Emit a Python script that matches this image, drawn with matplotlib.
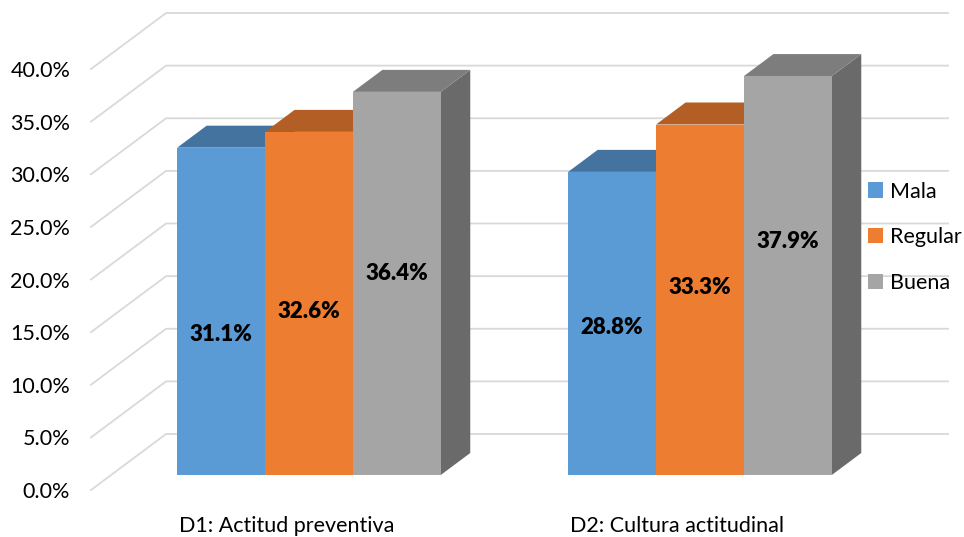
import matplotlib
matplotlib.use("Agg")
import matplotlib.pyplot as plt
from matplotlib.patches import Polygon, Patch

plt.rcParams['font.family'] = ['Lato', 'DejaVu Sans']

# data
categories = ['D1: Actitud preventiva', 'D2: Cultura actitudinal']
series = ['Mala', 'Regular', 'Buena']
mala = [31.1, 28.8]
regular = [32.6, 33.3]
buena = [36.4, 37.9]
yticks = [0, 5, 10, 15, 20, 25, 30, 35, 40]

# styling
front_colors = ['#5B9BD5', '#ED7D31', '#A5A5A5']
top_colors = ['#44739F', '#B35E24', '#7D7D7D']
side_colors = ['#3C6890', '#A45620', '#6A6A6A']
# where each value label sits, as a share of its bar height
label_frac = [[0.428, 0.476, 0.526], [0.487, 0.534, 0.585]]

# oblique 3D projection: full depth of the box in data units
DX, DY = 0.192, 5.32
f0, f1 = 0.268, 0.661      # bar depth range (fraction of box depth)
gap = 1.45                 # gap width as a multiple of bar width


def proj(x, y, f):
    return (x + f * DX, y + f * DY)


fig = plt.figure(figsize=(9.64, 5.37), dpi=100)
ax = fig.add_axes([91 / 964, 47 / 537, 782 / 964, 421 / 537])
ax.set_xlim(0, len(categories))
ax.set_ylim(0, 40)
for s in ax.spines.values():
    s.set_visible(False)

# gridlines running along the left wall and across the back wall
for v in yticks:
    pts = [proj(0, v, 0), proj(0, v, 1), proj(len(categories), v, 1)]
    ax.plot([p[0] for p in pts], [p[1] for p in pts], color='#D9D9D9',
            lw=1.3, zorder=1, clip_on=False, solid_joinstyle='miter')

values = [mala, regular, buena]
w = 1 / (len(series) + gap)
for i, cat in enumerate(categories):
    for j in range(len(series)):
        v = values[j][i]
        L = i + gap * w / 2 + j * w + 0.006
        R = L + w
        side = [proj(R, 0, f0), proj(R, v, f0), proj(R, v, f1), proj(R, 0, f1)]
        top = [proj(L, v, f0), proj(R, v, f0), proj(R, v, f1), proj(L, v, f1)]
        front = [proj(L, 0, f0), proj(R, 0, f0), proj(R, v, f0), proj(L, v, f0)]
        z = 2 + i * 3 + j
        ax.add_patch(Polygon(side, closed=True, facecolor=side_colors[j],
                             edgecolor='none', zorder=z, clip_on=False))
        ax.add_patch(Polygon(top, closed=True, facecolor=top_colors[j],
                             edgecolor='none', zorder=z, clip_on=False))
        ax.add_patch(Polygon(front, closed=True, facecolor=front_colors[j],
                             edgecolor='none', zorder=z, clip_on=False))
        lx, ly = proj((L + R) / 2, v * label_frac[i][j], f0)
        ax.text(lx, ly, f'{v:.1f}%', ha='center', va='center',
                fontsize=16, fontweight='heavy', color='black', zorder=20)

ax.set_yticks(yticks)
ax.set_yticklabels([f'{t:.1f}%' for t in yticks])
ax.set_xticks([i + 0.5 for i in range(len(categories))])
ax.set_xticklabels(categories)
ax.tick_params(axis='y', length=0, pad=15, labelsize=15.5, labelcolor='black')
ax.tick_params(axis='x', length=0, pad=19, labelsize=15.5, labelcolor='black')

handles = [Patch(facecolor=c, edgecolor='none') for c in front_colors]
fig.legend(handles, series, loc='upper left', bbox_to_anchor=(0.9, 0.662),
           frameon=False, fontsize=15.5, handlelength=0.72, handleheight=0.72,
           handletextpad=0.3, labelspacing=1.2, borderpad=0, borderaxespad=0)

fig.savefig('out.png', dpi=100, facecolor='white')
